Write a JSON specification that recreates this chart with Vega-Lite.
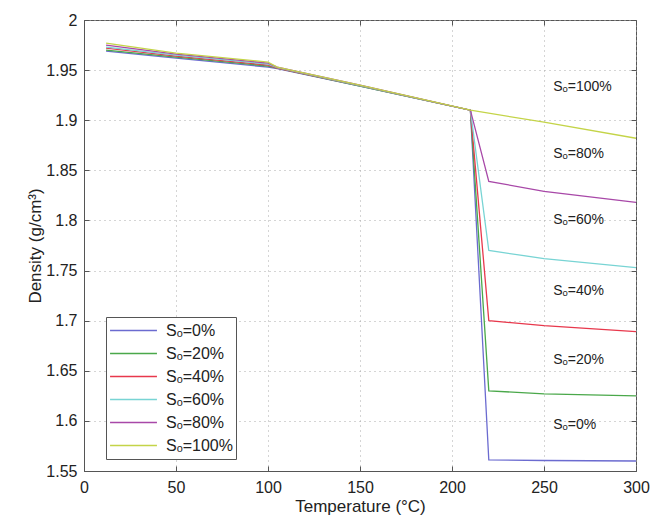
{
  "$schema": "https://vega.github.io/schema/vega-lite/v6.json",
  "width": 552,
  "height": 451,
  "autosize": {"type": "none"},
  "padding": {"left": 84, "top": 20, "right": 15, "bottom": 56},
  "background": "white",
  "config": {
    "font": "Liberation Sans",
    "view": {"stroke": "#555", "strokeWidth": 1},
    "axis": {
      "labelFont": "Liberation Sans",
      "titleFont": "Liberation Sans",
      "labelFontSize": 16,
      "titleFontSize": 17,
      "titleFontWeight": "normal",
      "labelColor": "#222",
      "titleColor": "#222",
      "domainColor": "#555",
      "tickColor": "#555",
      "gridColor": "#aaa",
      "gridDash": [1, 4],
      "gridWidth": 1
    },
    "legend": {
      "labelFont": "Liberation Sans",
      "labelFontSize": 16,
      "labelColor": "#222"
    }
  },
  "datasets": {
    "curves": [
      {"T": 12, "rho": 1.969, "s": "Sₒ=0%"},
      {"T": 50, "rho": 1.962, "s": "Sₒ=0%"},
      {"T": 100, "rho": 1.953, "s": "Sₒ=0%"},
      {"T": 105, "rho": 1.9515, "s": "Sₒ=0%"},
      {"T": 150, "rho": 1.934, "s": "Sₒ=0%"},
      {"T": 210, "rho": 1.910, "s": "Sₒ=0%"},
      {"T": 220, "rho": 1.561, "s": "Sₒ=0%"},
      {"T": 250, "rho": 1.5605, "s": "Sₒ=0%"},
      {"T": 300, "rho": 1.560, "s": "Sₒ=0%"},
      {"T": 12, "rho": 1.970, "s": "Sₒ=20%"},
      {"T": 50, "rho": 1.963, "s": "Sₒ=20%"},
      {"T": 100, "rho": 1.954, "s": "Sₒ=20%"},
      {"T": 105, "rho": 1.952, "s": "Sₒ=20%"},
      {"T": 150, "rho": 1.934, "s": "Sₒ=20%"},
      {"T": 210, "rho": 1.910, "s": "Sₒ=20%"},
      {"T": 220, "rho": 1.630, "s": "Sₒ=20%"},
      {"T": 250, "rho": 1.627, "s": "Sₒ=20%"},
      {"T": 300, "rho": 1.625, "s": "Sₒ=20%"},
      {"T": 12, "rho": 1.972, "s": "Sₒ=40%"},
      {"T": 50, "rho": 1.964, "s": "Sₒ=40%"},
      {"T": 100, "rho": 1.955, "s": "Sₒ=40%"},
      {"T": 105, "rho": 1.952, "s": "Sₒ=40%"},
      {"T": 150, "rho": 1.9345, "s": "Sₒ=40%"},
      {"T": 210, "rho": 1.910, "s": "Sₒ=40%"},
      {"T": 220, "rho": 1.700, "s": "Sₒ=40%"},
      {"T": 250, "rho": 1.695, "s": "Sₒ=40%"},
      {"T": 300, "rho": 1.689, "s": "Sₒ=40%"},
      {"T": 12, "rho": 1.973, "s": "Sₒ=60%"},
      {"T": 50, "rho": 1.965, "s": "Sₒ=60%"},
      {"T": 100, "rho": 1.956, "s": "Sₒ=60%"},
      {"T": 105, "rho": 1.9525, "s": "Sₒ=60%"},
      {"T": 150, "rho": 1.9345, "s": "Sₒ=60%"},
      {"T": 210, "rho": 1.910, "s": "Sₒ=60%"},
      {"T": 220, "rho": 1.770, "s": "Sₒ=60%"},
      {"T": 250, "rho": 1.762, "s": "Sₒ=60%"},
      {"T": 300, "rho": 1.753, "s": "Sₒ=60%"},
      {"T": 12, "rho": 1.975, "s": "Sₒ=80%"},
      {"T": 50, "rho": 1.966, "s": "Sₒ=80%"},
      {"T": 100, "rho": 1.957, "s": "Sₒ=80%"},
      {"T": 105, "rho": 1.953, "s": "Sₒ=80%"},
      {"T": 150, "rho": 1.935, "s": "Sₒ=80%"},
      {"T": 210, "rho": 1.910, "s": "Sₒ=80%"},
      {"T": 220, "rho": 1.839, "s": "Sₒ=80%"},
      {"T": 250, "rho": 1.829, "s": "Sₒ=80%"},
      {"T": 300, "rho": 1.818, "s": "Sₒ=80%"},
      {"T": 12, "rho": 1.977, "s": "Sₒ=100%"},
      {"T": 50, "rho": 1.967, "s": "Sₒ=100%"},
      {"T": 100, "rho": 1.958, "s": "Sₒ=100%"},
      {"T": 105, "rho": 1.953, "s": "Sₒ=100%"},
      {"T": 150, "rho": 1.935, "s": "Sₒ=100%"},
      {"T": 210, "rho": 1.910, "s": "Sₒ=100%"},
      {"T": 250, "rho": 1.898, "s": "Sₒ=100%"},
      {"T": 300, "rho": 1.882, "s": "Sₒ=100%"}
    ],
    "labels": [
      {"T": 255, "rho": 1.933, "s": "Sₒ=100%"},
      {"T": 255, "rho": 1.866, "s": "Sₒ=80%"},
      {"T": 255, "rho": 1.800, "s": "Sₒ=60%"},
      {"T": 255, "rho": 1.730, "s": "Sₒ=40%"},
      {"T": 255, "rho": 1.661, "s": "Sₒ=20%"},
      {"T": 255, "rho": 1.596, "s": "Sₒ=0%"}
    ]
  },
  "layer": [
    {
      "data": {"name": "curves"},
      "mark": {"type": "line", "strokeWidth": 1.3},
      "encoding": {
        "x": {
          "field": "T", "type": "quantitative",
          "scale": {"domain": [0, 300], "nice": false},
          "axis": {"values": [0, 50, 100, 150, 200, 250, 300], "title": "Temperature (°C)", "tickSize": -5, "labelPadding": 13, "titlePadding": 3, "labelFlush": false}
        },
        "y": {
          "field": "rho", "type": "quantitative",
          "scale": {"domain": [1.55, 2], "nice": false, "zero": false},
          "axis": {"values": [1.55, 1.6, 1.65, 1.7, 1.75, 1.8, 1.85, 1.9, 1.95, 2], "format": ".2~f", "title": "Density (g/cm³)", "tickSize": -5, "labelPadding": 12, "titlePadding": 1, "labelFlush": false}
        },
        "color": {
          "field": "s", "type": "nominal",
          "sort": ["Sₒ=0%", "Sₒ=20%", "Sₒ=40%", "Sₒ=60%", "Sₒ=80%", "Sₒ=100%"],
          "scale": {"domain": ["Sₒ=0%", "Sₒ=20%", "Sₒ=40%", "Sₒ=60%", "Sₒ=80%", "Sₒ=100%"], "range": ["#6b6bd0", "#4aa84a", "#e8384c", "#78d4d4", "#a848a8", "#c4d448"]},
          "legend": {
            "title": null, "orient": "none", "legendX": 22, "legendY": 297,
            "symbolType": "stroke", "symbolSize": 2200, "symbolStrokeWidth": 1.5,
            "clipHeight": 21, "rowPadding": 2, "padding": 3, "strokeColor": "#555", "fillColor": "white",
            "labelOffset": 8
          }
        }
      }
    },
    {
      "data": {"name": "labels"},
      "mark": {"type": "text", "align": "left", "baseline": "middle", "fontSize": 14, "font": "Liberation Sans", "color": "#222"},
      "encoding": {
        "x": {"field": "T", "type": "quantitative", "axis": {"orient": "top", "labels": false, "grid": false, "domain": false, "tickSize": -5, "title": null, "values": [0, 50, 100, 150, 200, 250, 300]}},
        "y": {"field": "rho", "type": "quantitative", "axis": {"orient": "right", "labels": false, "grid": false, "domain": false, "tickSize": -5, "title": null, "values": [1.55, 1.6, 1.65, 1.7, 1.75, 1.8, 1.85, 1.9, 1.95, 2]}},
        "text": {"field": "s"}
      }
    }
  ],
  "resolve": {"axis": {"x": "independent", "y": "independent"}}
}
